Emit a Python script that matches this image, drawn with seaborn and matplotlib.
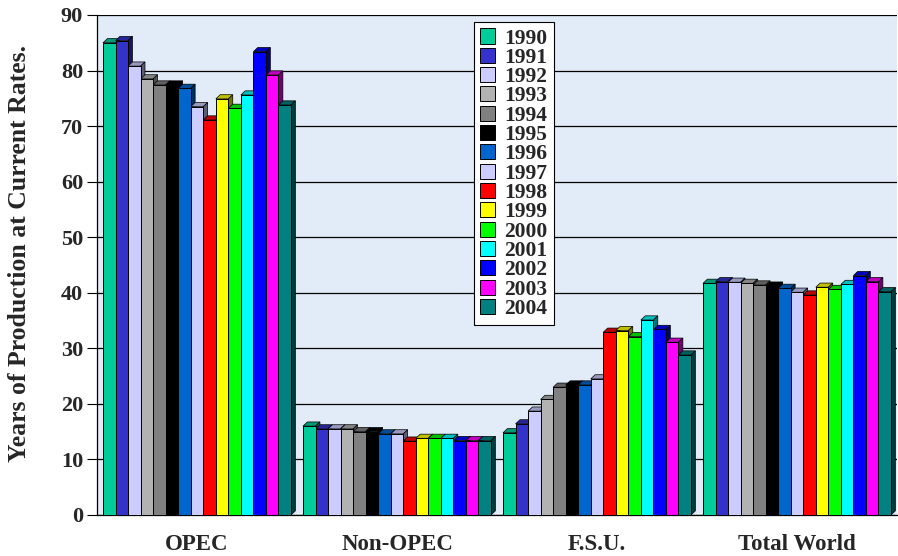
import numpy as np
import pandas as pd
import matplotlib
matplotlib.use("Agg")
import matplotlib.pyplot as plt
import seaborn as sns
from matplotlib.patches import Patch, Polygon
import matplotlib.colors as mcolors

regions = ["OPEC", "Non-OPEC", "F.S.U.", "Total World"]
years = ["1990", "1991", "1992", "1993", "1994", "1995", "1996", "1997",
         "1998", "1999", "2000", "2001", "2002", "2003", "2004"]
opec = [85.0, 85.4, 80.8, 78.5, 77.4, 77.4, 76.8, 73.5, 71.1, 74.9, 73.2, 75.6, 83.4, 79.2, 73.8]
non_opec = [16.0, 15.5, 15.5, 15.5, 15.0, 15.0, 14.6, 14.6, 13.3, 13.8, 13.8, 13.8, 13.4, 13.4, 13.4]
fsu = [14.8, 16.4, 18.7, 20.8, 23.0, 23.4, 23.4, 24.5, 32.9, 33.2, 32.1, 35.1, 33.4, 31.1, 28.8]
world = [41.7, 42.0, 41.9, 41.7, 41.4, 41.2, 40.8, 40.1, 39.6, 41.0, 40.6, 41.5, 43.1, 42.0, 40.2]
colors = ["#00CC99", "#3333CC", "#CCCCFF", "#B2B2B2", "#808080", "#000000", "#0066CC",
          "#CCCCFF", "#FF0000", "#FFFF00", "#00FF00", "#00FFFF", "#0000FF", "#FF00FF", "#008080"]
yticks = [0, 10, 20, 30, 40, 50, 60, 70, 80, 90]

rows = []
for reg, vals in zip(regions, [opec, non_opec, fsu, world]):
    for yr, v in zip(years, vals):
        rows.append({"region": reg, "year": yr, "value": v})
df = pd.DataFrame(rows)

sns.set_style("white")
serif = ["Liberation Serif", "DejaVu Serif"]
plt.rcParams["font.family"] = serif
plt.rcParams["font.weight"] = "bold"

fig = plt.figure(figsize=(8.98, 5.56), dpi=100)
ax = fig.add_axes([97 / 898, 41 / 556, 800 / 898, 500 / 556])
ax.set_facecolor("#e1ecf8")

sns.barplot(data=df, x="region", y="value", hue="year", hue_order=years,
            order=regions, palette=colors, width=0.94, saturation=1,
            edgecolor="black", linewidth=0.7, gap=0, legend=False, ax=ax, zorder=3)

# pseudo-3D faces derived from the bar patches
dx, dy = 0.022, 0.75
for p in list(ax.patches):
    x0, w, h = p.get_x(), p.get_width(), p.get_height()
    fc = np.array(mcolors.to_rgb(p.get_facecolor()))
    top = Polygon([(x0, h), (x0 + dx, h + dy), (x0 + w + dx, h + dy), (x0 + w, h)],
                  closed=True, facecolor=fc * 0.75, edgecolor="black", linewidth=0.5, zorder=2)
    side = Polygon([(x0 + w, 0), (x0 + w + dx, dy), (x0 + w + dx, h + dy), (x0 + w, h)],
                   closed=True, facecolor=fc * 0.45, edgecolor="black", linewidth=0.5, zorder=2)
    ax.add_patch(top)
    ax.add_patch(side)

ax.set_xlim(-0.5, 3.5)
ax.set_ylim(0, 90)
ax.set_yticks(yticks)
ax.set_yticklabels([str(t) for t in yticks], fontsize=16, fontweight="bold")
ax.yaxis.grid(True, color="black", linewidth=0.9, zorder=0.5)
ax.set_axisbelow(True)
ax.set_xticks(range(len(regions)))
ax.set_xticklabels(regions, fontsize=16.5, fontweight="bold")
ax.set_xticks([-0.5, 0.5, 1.5, 2.5, 3.5], minor=True)
ax.tick_params(axis="x", which="major", length=0, pad=14)
ax.tick_params(axis="x", which="minor", length=7, width=0.8, direction="out", color="black")
ax.tick_params(axis="y", length=7, width=0.8, direction="out", color="black", pad=3, left=True)
ax.set_xlabel("")
ax.set_ylabel("")
for s in ["top", "right"]:
    ax.spines[s].set_visible(False)
for s in ["left", "bottom"]:
    ax.spines[s].set_color("black")
    ax.spines[s].set_linewidth(0.9)

fig.text(20 / 898, 1 - 253 / 556, "Years of Production at Current Rates.", rotation=90,
         ha="center", va="center", fontsize=18.5, fontweight="bold")

handles = [Patch(facecolor=c, edgecolor="black", linewidth=0.7) for c in colors]
leg = ax.legend(handles, years, loc="upper left", bbox_to_anchor=(0.471, 0.986),
                frameon=True, fancybox=False, edgecolor="black", facecolor="white", framealpha=1,
                prop={"family": serif, "weight": "bold", "size": 15.5},
                handlelength=0.7, handleheight=0.7, labelspacing=-0.035,
                borderpad=0.3, handletextpad=0.4, borderaxespad=0)
leg.get_frame().set_linewidth(0.8)
leg.set_zorder(10)

fig.savefig("out.png", dpi=100)
